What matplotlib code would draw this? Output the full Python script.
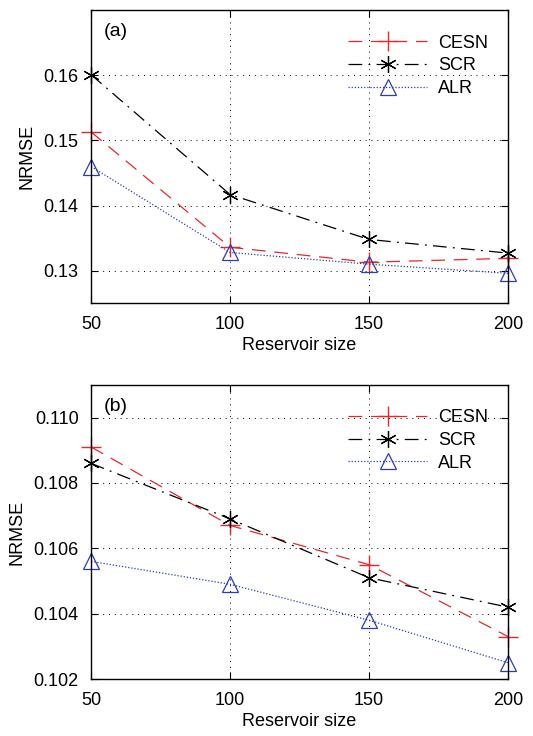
import numpy as np
import matplotlib
matplotlib.use("Agg")
import matplotlib.pyplot as plt

plt.rcParams["font.family"] = ["Liberation Sans", "DejaVu Sans"]
plt.rcParams["font.size"] = 13

# reservoir sizes
sizes = [50, 100, 150, 200]

# panel (a)
cesn_a = [0.1513, 0.1336, 0.1313, 0.1319]
scr_a = [0.1601, 0.1417, 0.1348, 0.1327]
alr_a = [0.1460, 0.1328, 0.1310, 0.1296]

# panel (b)
cesn_b = [0.1091, 0.1067, 0.1055, 0.1033]
scr_b = [0.1086, 0.1069, 0.1051, 0.1042]
alr_b = [0.1056, 0.1049, 0.1038, 0.1025]

fig = plt.figure(figsize=(5.33, 7.36), dpi=100)
ax1 = fig.add_axes([0.171, 0.588, 0.782, 0.398])
ax2 = fig.add_axes([0.171, 0.0774, 0.782, 0.3996])


def draw(ax, cesn, scr, alr, ylim, yticks, yfmt, tag):
    ax.plot(sizes, cesn, color="#e8262b", ls=(0, (11, 7)), lw=0.9,
            marker="+", ms=14, mew=1.0, label="CESN", clip_on=False)
    ax.plot(sizes, scr, color="black", ls=(0, (11, 5, 1.5, 5)), lw=0.9,
            marker=(6, 2, 0), ms=12, mew=0.9, label="SCR", clip_on=False)
    ax.plot(sizes, alr, color="#2b3cb8", ls=(0, (1, 1.5)), lw=0.9,
            marker="^", ms=12, mfc="none", mew=0.9, label="ALR",
            clip_on=False)
    ax.set_xlim(50, 200)
    ax.set_ylim(*ylim)
    ax.set_xticks(sizes)
    ax.set_yticks(yticks)
    ax.set_yticklabels([yfmt % v for v in yticks])
    ax.grid(True, color="black", ls=(0, (1, 5)), lw=0.7)
    ax.tick_params(direction="in", top=True, right=True, length=5, width=0.8,
                   pad=9)
    for s in ax.spines.values():
        s.set_linewidth(1.0)
    ax.set_xlabel("Reservoir size", labelpad=3)
    ax.set_ylabel("NRMSE", labelpad=6)
    ax.text(0.03, 0.955, tag, transform=ax.transAxes, va="top", ha="left",
            fontsize=14)
    ax.legend(loc="upper right", frameon=False, handlelength=4.4,
              handletextpad=0.6, borderaxespad=0.7, labelspacing=0.32,
              bbox_to_anchor=(1.0, 0.985))


draw(ax1, cesn_a, scr_a, alr_a, (0.125, 0.17), [0.13, 0.14, 0.15, 0.16],
     "%.2f", "(a)")
draw(ax2, cesn_b, scr_b, alr_b, (0.102, 0.111),
     [0.102, 0.104, 0.106, 0.108, 0.110], "%.3f", "(b)")

fig.savefig("out.png", dpi=100)
